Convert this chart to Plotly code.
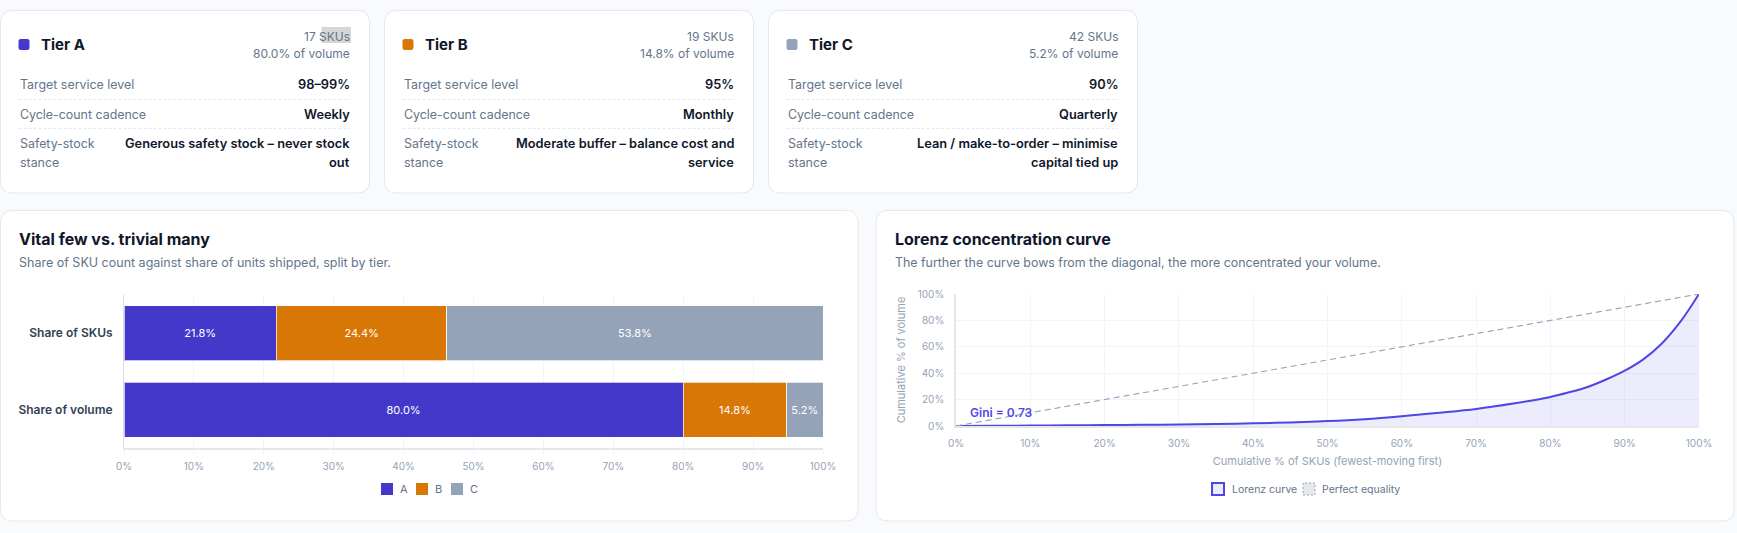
import plotly.graph_objects as go

# ---------------- data ----------------
tiers = ["A", "B", "C"]
tier_colors = ["#4338ca", "#d97706", "#94a3b8"]
sku_counts = [17, 19, 42]
volume_share = [80.0, 14.8, 5.2]
sku_share = [21.8, 24.4, 53.8]
service_levels = ["98–99%", "95%", "90%"]
cadences = ["Weekly", "Monthly", "Quarterly"]
stance_line1 = ["Generous safety stock – never stock", "Moderate buffer – balance cost and", "Lean / make-to-order – minimise"]
stance_line2 = ["out", "service", "capital tied up"]

bar_categories = ["Share of SKUs", "Share of volume"]

lorenz_x = [0, 5, 10, 15, 20, 25, 30, 35, 40, 45, 50, 55, 60, 65, 70, 75, 80, 82.5, 85, 87.5, 90, 92.5, 95, 97.5, 100]
lorenz_y = [0, 0.1, 0.3, 0.5, 0.7, 0.9, 1.2, 1.6, 2.0, 2.7, 3.7, 5.2, 7.4, 10.0, 12.9, 17.0, 22.0, 25.5, 29.6, 35.2, 41.9, 50.5, 62.5, 79.0, 100]
equality_x = [0, 100]
equality_y = [0, 100]
gini = 0.73

pct_ticks = [0, 10, 20, 30, 40, 50, 60, 70, 80, 90, 100]
pct_ticks_y = [0, 20, 40, 60, 80, 100]

# ---------------- geometry helpers (pixels -> paper) ----------------
W, H = 1737, 533
FONT = "Inter"
SLATE900 = "#0f172a"
SLATE500 = "#64748b"
SLATE400 = "#94a3b8"
BORDER = "#e2e8f0"


def X(px):
    return px / W


def Y(py):
    return 1 - py / H


def rrect_path(x0, y0, x1, y1, r):
    pts = [
        ("M", [(x0 + r, y0)]),
        ("L", [(x1 - r, y0)]),
        ("Q", [(x1, y0), (x1, y0 + r)]),
        ("L", [(x1, y1 - r)]),
        ("Q", [(x1, y1), (x1 - r, y1)]),
        ("L", [(x0 + r, y1)]),
        ("Q", [(x0, y1), (x0, y1 - r)]),
        ("L", [(x0, y0 + r)]),
        ("Q", [(x0, y0), (x0 + r, y0)]),
    ]
    s = ""
    for cmd, ps in pts:
        s += cmd + " " + " ".join(f"{X(a):.6f},{Y(b):.6f}" for a, b in ps) + " "
    return s + "Z"


shapes = []
annotations = []


def card(x0, y0, x1, y1, r=12):
    shapes.append(dict(type="path", path=rrect_path(x0, y0, x1, y1, r), xref="paper", yref="paper",
                       fillcolor="white", line=dict(color=BORDER, width=1), layer="below"))


def text(x, y, s, size, color, weight=400, anchor="left"):
    annotations.append(dict(x=X(x), y=Y(y), xref="paper", yref="paper", text=s, showarrow=False,
                            xanchor=anchor, yanchor="middle", align=anchor,
                            font=dict(family=FONT, size=size, color=color, weight=weight)))


# ---------------- top cards ----------------
card_lefts = [0.5, 384.5, 768.5]
card_w = 369
for i, t in enumerate(tiers):
    L = card_lefts[i]
    R = L + card_w
    card(L, 10.5, R, 193)
    shapes.append(dict(type="path", path=rrect_path(L + 18, 39, L + 29, 50, 2.5), xref="paper", yref="paper",
                       fillcolor=tier_colors[i], line=dict(width=0), layer="above"))
    text(L + 38, 44.5, f"Tier {t}", 15, SLATE900, 700)
    if i == 0:
        shapes.append(dict(type="rect", xref="paper", yref="paper", x0=X(R - 48), x1=X(R - 18.5),
                           y0=Y(43), y1=Y(27), fillcolor="#d6d6d6", line=dict(width=0), layer="below"))
    text(R - 18, 36, f"{sku_counts[i]} SKUs", 12, SLATE500, 400, "right")
    text(R - 18, 54, f"{volume_share[i]:.1f}% of volume", 12, SLATE500, 400, "right")
    text(L + 17, 84, "Target service level", 12.4, SLATE500)
    text(R - 18, 84, service_levels[i], 12.8, SLATE900, 600, "right")
    text(L + 17, 114, "Cycle-count cadence", 12.4, SLATE500)
    text(R - 18, 114, cadences[i], 12.8, SLATE900, 600, "right")
    text(L + 17, 143, "Safety-stock", 12.4, SLATE500)
    text(L + 17, 162, "stance", 12.4, SLATE500)
    text(R - 18, 143, stance_line1[i], 12.8, SLATE900, 600, "right")
    text(R - 18, 162, stance_line2[i], 12.8, SLATE900, 600, "right")
    for yy in (99.5, 128.5):
        shapes.append(dict(type="line", xref="paper", yref="paper", x0=X(L + 18), x1=X(R - 19),
                           y0=Y(yy), y1=Y(yy), line=dict(color=BORDER, width=1, dash="3px,2px"), layer="above"))

# ---------------- bottom panels ----------------
card(0.5, 210.5, 858, 521)
card(876, 210.5, 1734, 521)
text(17, 239, "Vital few vs. trivial many", 16, SLATE900, 700)
text(17, 263, "Share of SKU count against share of units shipped, split by tier.", 12.5, SLATE500)
text(893, 239, "Lorenz concentration curve", 16, SLATE900, 700)
text(893, 263, "The further the curve bows from the diagonal, the more concentrated your volume.", 12.4, SLATE500)

# ---------------- traces ----------------
fig = go.Figure()
for i, t in enumerate(tiers):
    fig.add_trace(go.Bar(
        y=bar_categories, x=[sku_share[i], volume_share[i]], name=t, orientation="h",
        marker=dict(color=tier_colors[i], line=dict(color="rgba(255,255,255,0.7)", width=1)),
        texttemplate="%{x:.1f}%", textposition="inside", insidetextanchor="middle",
        textfont=dict(family=FONT, size=11, color="white"), showlegend=False,
        xaxis="x", yaxis="y", hoverinfo="skip"))

fig.add_trace(go.Scatter(x=lorenz_x, y=lorenz_y, mode="lines", name="Lorenz curve",
                         line=dict(color="#4f46e5", width=2, shape="spline", smoothing=1.0),
                         fill="tozeroy", fillcolor="rgba(99,102,241,0.12)", showlegend=False,
                         xaxis="x2", yaxis="y2", hoverinfo="skip"))
fig.add_trace(go.Scatter(x=equality_x, y=equality_y, mode="lines", name="Perfect equality",
                         line=dict(color=SLATE400, width=1.2, dash="6px,4px"), showlegend=False,
                         xaxis="x2", yaxis="y2", hoverinfo="skip"))

annotations.append(dict(x=1.6, y=10.6, xref="x2", yref="y2", text=f"Gini = {gini:.2f}", showarrow=False,
                        xanchor="left", yanchor="middle",
                        font=dict(family=FONT, size=12, color="#4f46e5", weight=600)))

# ---------------- custom legends ----------------
leg_y = 489
bar_leg_x = [381, 416, 451]
for i, t in enumerate(tiers):
    x0 = bar_leg_x[i]
    shapes.append(dict(type="rect", xref="paper", yref="paper", x0=X(x0), x1=X(x0 + 12),
                       y0=Y(leg_y + 6), y1=Y(leg_y - 6), fillcolor=tier_colors[i], line=dict(width=0)))
    text(x0 + 17, leg_y, t, 11, SLATE500)

shapes.append(dict(type="rect", xref="paper", yref="paper", x0=X(1212), x1=X(1224),
                   y0=Y(leg_y + 6), y1=Y(leg_y - 6), fillcolor="rgba(99,102,241,0.12)",
                   line=dict(color="#4f46e5", width=2)))
text(1230, leg_y, "Lorenz curve", 10.5, SLATE500)
shapes.append(dict(type="rect", xref="paper", yref="paper", x0=X(1303), x1=X(1315),
                   y0=Y(leg_y + 6), y1=Y(leg_y - 6), fillcolor="#e5e7eb",
                   line=dict(color=SLATE400, width=1, dash="2px,2px")))
text(1320, leg_y, "Perfect equality", 10.5, SLATE500)

# ---------------- layout ----------------
tickfont = dict(family=FONT, size=10, color=SLATE400)
fig.update_layout(
    template="none",
    width=W, height=H, margin=dict(l=0, r=0, t=0, b=0, pad=0, autoexpand=False),
    paper_bgcolor="#f8fafc", plot_bgcolor="rgba(0,0,0,0)",
    barmode="stack", bargap=0.28, showlegend=False,
    font=dict(family=FONT),
    xaxis=dict(domain=[X(124), X(823)], range=[0, 100], tickvals=pct_ticks, automargin=False,
               ticktext=[f"{v}%" for v in pct_ticks], tickfont=tickfont, ticklabelstandoff=3,
               showgrid=True, gridcolor="#f1f5f9", gridwidth=1, zeroline=False,
               showline=True, linecolor="#e5e7eb", linewidth=2,
               ticks="outside", ticklen=5, tickcolor="#f1f5f9", fixedrange=True),
    yaxis=dict(domain=[Y(448), Y(295)], categoryorder="array", categoryarray=bar_categories,
               autorange="reversed", showgrid=False, zeroline=False, automargin=False,
               showline=True, linecolor="#d9dee5", linewidth=1, ticks="",
               tickfont=dict(family=FONT, size=12, color="#334155", weight=600),
               ticklabelstandoff=8, fixedrange=True),
    xaxis2=dict(domain=[X(956), X(1699)], range=[0, 100], tickvals=pct_ticks, automargin=False,
                ticktext=[f"{v}%" for v in pct_ticks], tickfont=tickfont, ticklabelstandoff=7,
                showgrid=True, gridcolor="#f1f5f9", zeroline=False,
                showline=True, linecolor="#e5e7eb", linewidth=1.5, ticks="",
                title=dict(text="Cumulative % of SKUs (fewest-moving first)",
                           font=dict(family=FONT, size=11, color=SLATE400), standoff=10),
                anchor="y2", fixedrange=True),
    yaxis2=dict(domain=[Y(426), Y(294)], range=[0, 100], tickvals=pct_ticks_y, automargin=False,
                ticktext=[f"{v}%" for v in pct_ticks_y], tickfont=tickfont, ticklabelstandoff=8,
                showgrid=True, gridcolor="#f1f5f9", zeroline=False,
                showline=True, linecolor="#e5e7eb", linewidth=1.5, ticks="",
                title=dict(text="Cumulative % of volume",
                           font=dict(family=FONT, size=11, color=SLATE400), standoff=10),
                anchor="x2", fixedrange=True),
    shapes=shapes, annotations=annotations,
)

fig.write_html("out.html", post_script="document.body.style.margin='0';document.body.style.overflow='hidden';")
